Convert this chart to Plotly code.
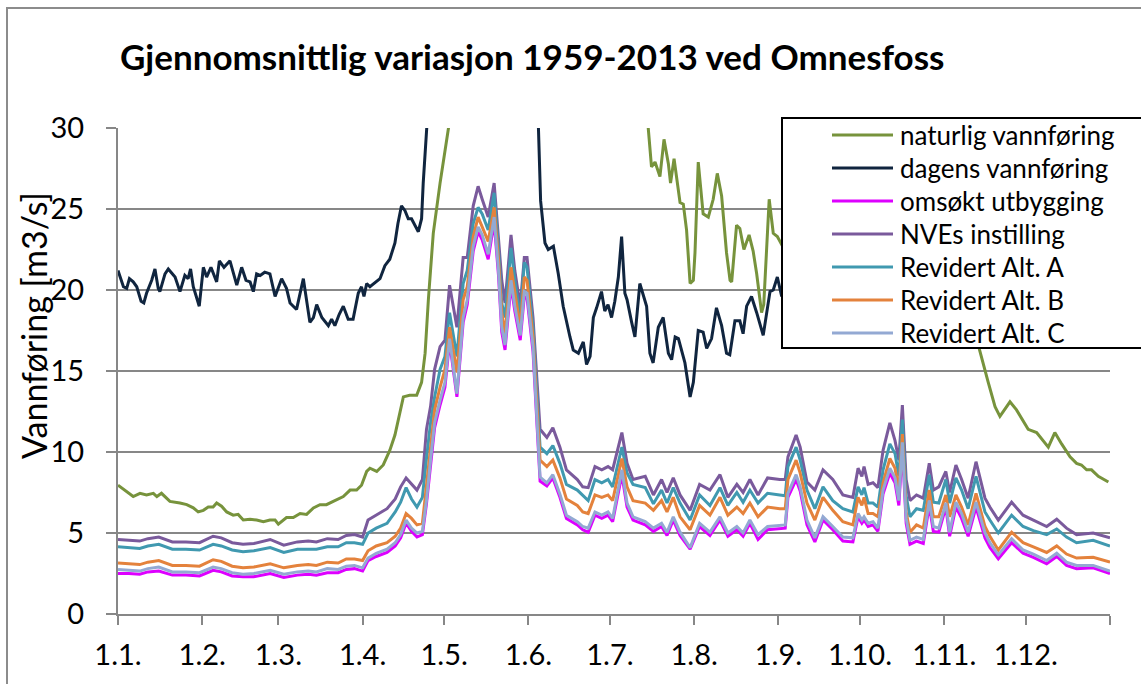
import plotly.graph_objects as go

# Day-of-year (0 = 1 Jan) and flows in m3/s

# regulated series share the same key days
days_reg = [0, 4, 8, 11, 15, 20, 25, 30, 35, 38, 42, 46, 50, 56, 61, 66, 70, 73, 77, 81,
            84, 87, 90, 92, 95, 99, 102, 104, 106, 108, 110, 112, 113.5, 115, 116.5, 118.5,
            120.3, 122, 124.7, 127, 128.5, 130.7, 132.5, 134, 136.2, 138.4, 140, 141.2,
            142.4, 144.6, 146, 148, 149.5, 150.5, 152.7, 155.3, 157.8, 160, 162.6, 165,
            169, 171, 173, 175.5, 178, 180.3, 182, 185.4, 187.3, 189.5, 194, 197, 200, 202,
            204.3, 206.8, 210.5, 214, 217.8, 221.5, 224.4, 227.7, 230, 232.5, 235.5, 239,
            243.5, 245.5, 246.5, 249.5, 251, 253.5, 256.4, 259.4, 263, 266.7, 270.4, 272.3,
            273.7, 274.5, 276, 277.8, 279.6, 281.5, 284, 285.9, 287.3, 288.6, 290, 291.4,
            293.8, 296.3, 298.5, 300, 302, 304.6, 306, 308.3, 310.4, 312.8, 315.7, 319,
            320.8, 323.9, 328.8, 333, 336.8, 341.7, 345.4, 349, 352.7, 358.8, 365]

nve = [4.6, 4.55, 4.5, 4.65, 4.75, 4.45, 4.45, 4.4, 4.8, 4.7, 4.4, 4.3, 4.35, 4.6, 4.25, 4.45,
       4.5, 4.45, 4.65, 4.6, 4.85, 4.9, 4.75, 5.8, 6.1, 6.5, 7.1, 7.85, 8.4, 8.0, 7.65, 8.3,
       11.4, 12.8, 15.1, 16.5, 16.9, 20.3, 17.7, 22.0, 22.0, 25.2, 26.4, 25.6, 24.5, 26.6,
       23.3, 20.6, 19.2, 23.4, 21.2, 19.0, 22.0, 22.0, 18.3, 11.4, 10.9, 11.5, 10.3, 8.9,
       8.3, 7.85, 7.8, 9.1, 8.9, 9.1, 8.9, 11.2, 9.3, 8.3, 8.5, 7.35, 8.3, 7.5,
       8.4, 7.35, 6.4, 8.0, 7.65, 8.6, 7.2, 8.0, 7.5, 8.3, 7.35, 8.4,
       8.3, 8.3, 9.7, 11.05, 10.3, 8.15, 7.65, 8.9, 8.3, 7.35, 7.2, 9.0,
       8.5, 9.1, 8.0, 8.1, 7.8, 10.1, 11.8, 10.7, 9.5, 12.9, 8.3, 7.0,
       7.35, 7.15, 9.3, 7.65, 7.85, 8.8, 7.5, 9.2, 8.3, 7.15, 9.4, 7.15,
       6.6, 5.8, 6.9, 6.1, 5.8, 5.4, 5.85, 5.3, 4.9, 5.0, 4.7]

alt_a = [4.15, 4.1, 4.05, 4.2, 4.3, 4.0, 4.0, 3.95, 4.3, 4.2, 3.95, 3.85, 3.9, 4.1, 3.8, 4.0,
         4.0, 4.0, 4.15, 4.15, 4.4, 4.4, 4.3, 5.0, 5.3, 5.6, 6.3, 6.9, 7.8, 7.1, 6.6, 7.2,
         9.6, 11.8, 13.4, 15.1, 15.9, 18.6, 15.9, 20.4, 21.2, 24.1, 25.1, 24.7, 23.7, 26.0,
         22.5, 19.2, 18.3, 22.6, 20.6, 18.3, 21.7, 21.4, 17.7, 10.3, 9.9, 10.4, 9.3, 8.0,
         7.65, 7.35, 7.0, 8.3, 8.1, 8.3, 7.85, 10.3, 8.7, 8.0, 7.8, 6.8, 7.65, 6.85,
         7.8, 6.85, 5.8, 7.35, 6.7, 7.8, 6.7, 7.5, 6.9, 7.65, 6.85, 7.45,
         7.35, 7.3, 9.1, 10.3, 9.5, 7.65, 6.5, 7.85, 7.0, 6.5, 6.3, 7.85,
         7.35, 7.8, 6.85, 6.85, 6.6, 8.9, 10.5, 9.9, 8.5, 12.0, 7.3, 6.0,
         6.5, 6.4, 8.6, 6.9, 6.85, 8.3, 6.85, 8.4, 7.65, 6.5, 8.5, 6.3,
         5.8, 5.0, 6.1, 5.4, 5.15, 4.9, 5.25, 4.75, 4.4, 4.55, 4.2]

alt_b = [3.15, 3.1, 3.05, 3.2, 3.3, 3.0, 3.0, 2.95, 3.35, 3.25, 2.95, 2.85, 2.9, 3.1, 2.85, 3.0,
         3.05, 3.0, 3.2, 3.15, 3.4, 3.4, 3.3, 3.9, 4.2, 4.4, 4.8, 5.3, 6.2, 5.9, 5.5, 5.6,
         8.0, 10.6, 12.6, 14.0, 15.1, 17.7, 14.9, 19.4, 20.2, 23.3, 24.5, 23.9, 23.0, 25.1,
         21.9, 18.6, 17.3, 21.4, 19.8, 17.7, 20.8, 20.6, 17.1, 9.5, 9.1, 9.5, 8.4, 7.1,
         6.7, 6.3, 6.2, 7.35, 7.2, 7.35, 7.0, 9.6, 7.85, 7.0, 6.85, 6.4, 7.0, 6.3,
         7.2, 6.0, 5.2, 6.7, 6.1, 7.2, 6.1, 6.6, 6.2, 6.85, 6.0, 6.6,
         6.5, 6.5, 8.3, 9.5, 8.7, 6.85, 5.8, 7.2, 6.4, 5.7, 5.5, 7.2,
         6.7, 7.2, 6.2, 6.2, 6.0, 8.1, 9.6, 9.0, 7.6, 11.1, 6.3, 5.05,
         5.5, 5.3, 7.65, 6.0, 6.0, 7.35, 6.0, 7.35, 6.6, 5.5, 7.45, 5.4,
         4.8, 3.95, 5.05, 4.4, 4.15, 3.8, 4.2, 3.7, 3.45, 3.5, 3.2]

alt_c = [2.75, 2.7, 2.65, 2.8, 2.9, 2.6, 2.6, 2.55, 2.9, 2.8, 2.55, 2.45, 2.5, 2.7, 2.45, 2.6,
         2.65, 2.6, 2.8, 2.75, 2.95, 3.0, 2.85, 3.45, 3.75, 4.0, 4.4, 4.9, 5.8, 5.3, 5.0, 5.1,
         7.0, 9.5, 11.8, 13.2, 14.3, 17.0, 13.6, 18.3, 19.4, 22.7, 23.9, 23.4, 22.2, 24.5,
         21.2, 17.7, 16.6, 20.6, 19.0, 17.2, 19.9, 19.8, 16.5, 8.45, 8.1, 8.6, 7.4, 6.1,
         5.7, 5.4, 5.3, 6.3, 6.1, 6.3, 5.9, 8.9, 6.85, 6.0, 5.7, 5.3, 5.6, 5.05,
         6.0, 5.05, 4.1, 5.6, 5.05, 6.0, 5.0, 5.4, 5.0, 5.8, 4.9, 5.4,
         5.5, 5.5, 7.45, 8.6, 7.85, 5.8, 4.7, 6.0, 5.4, 4.75, 4.7, 6.2,
         5.8, 6.0, 5.6, 5.7, 5.3, 7.65, 9.0, 8.4, 7.0, 10.6, 5.9, 4.55,
         4.75, 4.6, 7.0, 5.4, 5.3, 6.85, 5.05, 6.9, 6.2, 5.05, 6.9, 5.0,
         4.4, 3.65, 4.65, 3.95, 3.7, 3.3, 3.75, 3.2, 3.0, 3.0, 2.65]

omsokt = [2.5, 2.5, 2.45, 2.6, 2.65, 2.4, 2.4, 2.35, 2.7, 2.6, 2.35, 2.3, 2.3, 2.5, 2.25, 2.4,
          2.45, 2.4, 2.55, 2.55, 2.75, 2.8, 2.65, 3.3, 3.55, 3.8, 4.2, 4.7, 5.6, 5.1, 4.75, 4.9,
          6.8, 9.3, 11.5, 12.9, 14.0, 16.8, 13.4, 18.0, 19.1, 22.4, 23.6, 23.1, 21.9, 24.2,
          20.9, 17.4, 16.3, 20.3, 18.7, 16.9, 19.6, 19.5, 16.2, 8.2, 7.9, 8.4, 7.2, 5.9,
          5.5, 5.2, 5.05, 6.1, 5.9, 6.1, 5.7, 8.6, 6.6, 5.8, 5.5, 5.1, 5.4, 4.85,
          5.8, 4.85, 4.0, 5.4, 4.85, 5.8, 4.8, 5.2, 4.8, 5.6, 4.6, 5.2,
          5.3, 5.3, 7.2, 8.3, 7.6, 5.5, 4.45, 5.8, 5.2, 4.5, 4.45, 6.0,
          5.6, 5.8, 5.4, 5.5, 5.1, 7.4, 8.7, 8.1, 6.7, 10.3, 5.6, 4.3,
          4.5, 4.35, 6.7, 5.1, 5.05, 6.6, 4.8, 6.6, 5.9, 4.8, 6.6, 4.7,
          4.1, 3.4, 4.4, 3.75, 3.5, 3.1, 3.55, 3.0, 2.8, 2.85, 2.5]

days_dag = [0, 2, 3.2, 4.2, 5.6, 6.9, 8.5, 9.5, 10.5, 12.4, 13.6, 14.8, 15.4, 17.3, 18.5, 21,
            22.8, 24.6, 25.8, 26.7, 27.7, 29, 29.9, 31.4, 32.6, 34.2, 36.3, 37.3, 39, 41.2,
            43.7, 45.5, 47.1, 48.6, 49.8, 51, 52.3, 54, 55.9, 57.8, 60.2, 62, 63.3, 65.7,
            68.2, 70.6, 71.9, 73.1, 75, 77.4, 78.6, 79.8, 81.4, 82.9, 84.7, 86.5, 88.4, 89.6,
            90.5, 91.5, 92.7, 96.4, 98.2, 100, 101.9, 103, 104.3, 105.6, 106.8, 108, 110.5,
            111.7, 112.3, 113.6, 115, 118, 122, 128, 135, 142, 148, 152, 154.7, 155.5, 157.1,
            158.3, 160.2, 162, 163.8, 165, 166.3, 167.5, 169.4, 171.2, 172.4, 173.7, 174.9,
            176.1, 177.9, 179.1, 180.3, 181.6, 182.8, 184.1, 185.3, 186.5, 187.3, 189, 190.2,
            192, 194.5, 195.7, 196.9, 198.8, 200.6, 202.5, 203.7, 205, 206.2, 208.6, 210.5,
            211.7, 213.5, 215.3, 216.6, 218.4, 220.2, 222.1, 223.9, 225.1, 227, 228.8, 230,
            231.3, 233.1, 235, 237.4, 239.9, 241.1, 242.6, 244.2, 248, 255, 265, 275, 285,
            295, 305, 315, 325, 335, 345, 355, 365]

dagens = [21.2, 20.2, 20.1, 20.7, 20.5, 20.2, 19.3, 19.2, 19.8, 20.6, 21.3, 20.1, 19.9, 21.0,
          21.3, 20.8, 19.9, 20.9, 20.7, 21.3, 20.2, 19.4, 19.0, 21.4, 20.8, 21.4, 20.5, 21.8,
          21.4, 21.8, 20.3, 21.4, 20.6, 20.5, 19.9, 21.0, 20.9, 21.1, 21.0, 19.6, 20.7, 20.1,
          19.2, 18.8, 20.7, 18.0, 18.3, 19.1, 18.3, 17.8, 18.2, 17.8, 18.5, 19.0, 18.2, 18.2,
          19.8, 20.2, 19.6, 20.4, 20.2, 20.7, 21.5, 21.9, 22.9, 24.1, 25.2, 24.9, 24.4, 24.4,
          23.6, 24.4, 26.6, 30.0, 34.0, 40.0, 46.0, 50.0, 52.0, 50.0, 45.0, 38.0, 30.0, 25.5,
          22.9, 22.5, 22.7, 21.0, 19.0, 18.0, 17.1, 16.3, 16.1, 16.8, 15.4, 15.9, 18.3, 18.9,
          19.9, 18.7, 19.1, 18.3, 19.3, 20.8, 23.3, 19.8, 19.4, 18.0, 17.1, 20.4, 19.0, 16.1,
          15.5, 17.7, 18.3, 16.1, 15.7, 17.1, 17.0, 15.5, 13.4, 14.3, 17.5, 17.4, 16.4, 17.0,
          18.9, 17.8, 16.1, 16.0, 18.1, 18.1, 17.3, 19.0, 19.6, 18.6, 17.2, 19.9, 20.0, 20.8,
          19.6, 20.5, 21.0, 20.0, 22.0, 24.0, 22.0, 21.0, 20.0, 19.5, 20.0, 20.5, 20.0, 20.5]

days_nat = [0, 3.2, 5.6, 8.1, 10.5, 13, 14.3, 16, 19.1, 22.8, 25.3, 27.7, 29.5, 31.4, 33.2, 35,
            36.3, 38.1, 40, 42.4, 44.2, 46.1, 48.6, 51, 53.5, 55.9, 57.8, 59, 62, 64.5, 67,
            69.4, 71.9, 74.3, 76.7, 79.2, 82.9, 85.4, 87.8, 89.6, 91.5, 92.7, 95.2, 97.6, 100,
            101.9, 103.8, 105, 107.3, 109.9, 111.7, 113, 114.2, 116, 118.5, 120.3, 121.6, 125,
            130, 138, 145, 155, 165, 175, 185, 192, 195.1, 196.3, 197.6, 199.4, 200.9, 202.5,
            203.3, 204.6, 205.8, 206.8, 208, 209.2, 210.5, 211.7, 212.3, 213.5, 215.3, 217.2,
            219, 220.5, 222.1, 223.9, 225.2, 225.8, 227.6, 228.8, 230.3, 232.2, 233.7, 235,
            236.8, 237.6, 239.6, 241.1, 242.6, 244.2, 250, 258, 266, 275, 285, 295, 305, 313,
            317, 319, 320.2, 322.7, 324.5, 328.2, 330.6, 334.9, 338, 342.3, 344.7, 347.2, 350.3,
            352.7, 354.5, 356.4, 358.2, 360.7, 364.4]

naturlig = [7.95, 7.55, 7.25, 7.45, 7.35, 7.45, 7.25, 7.45, 6.95, 6.85, 6.75, 6.55, 6.3, 6.4,
            6.6, 6.6, 6.85, 6.65, 6.3, 6.1, 6.15, 5.8, 5.85, 5.8, 5.7, 5.8, 5.8, 5.55, 5.95,
            5.95, 6.2, 6.15, 6.55, 6.75, 6.75, 6.95, 7.25, 7.65, 7.65, 7.95, 8.8, 9.0, 8.8, 9.2,
            10.1, 11.05, 12.5, 13.4, 13.5, 13.5, 14.3, 16.1, 19.4, 23.5, 26.6, 28.6, 30.0, 36.0,
            42.0, 48.0, 52.0, 50.0, 44.0, 40.0, 36.0, 32.0, 30.0, 27.6, 27.9, 27.0, 29.3, 27.8,
            26.6, 28.1, 26.5, 25.4, 25.3, 23.7, 20.4, 20.6, 22.3, 27.9, 24.7, 24.5,
            25.6, 27.2, 25.8, 22.3, 20.6, 20.5, 24.0, 23.8, 22.5, 23.4, 22.4, 21.0,
            18.6, 19.1, 25.6, 23.5, 23.3, 22.8, 24.0, 27.0, 24.0, 27.0, 31.0, 28.0, 24.0, 19.0,
            16.3, 15.0, 14.3, 12.8, 12.2, 13.1, 12.6, 11.4, 11.2, 10.3, 11.2, 10.5, 9.7,
            9.3, 9.2, 8.9, 8.9, 8.5, 8.15]

month_starts = [0, 31, 59, 90, 120, 151, 181, 212, 243, 273, 304, 334, 365]
month_labels = ["1.1.", "1.2.", "1.3.", "1.4.", "1.5.", "1.6.", "1.7.", "1.8.", "1.9.",
                "1.10.", "1.11.", "1.12.", ""]

series = [
    ("naturlig vannføring", days_nat, naturlig, "#77933C"),
    ("dagens vannføring", days_dag, dagens, "#10253F"),
    ("omsøkt utbygging", days_reg, omsokt, "#DD00FF"),
    ("NVEs instilling", days_reg, nve, "#7A5A9C"),
    ("Revidert Alt. A", days_reg, alt_a, "#4099B0"),
    ("Revidert Alt. B", days_reg, alt_b, "#E4823C"),
    ("Revidert Alt. C", days_reg, alt_c, "#93A9D3"),
]

FONT = "Lato"
GRID = "#878787"

# plot area in pixels: x 118..1110, y 128..614
L, R, T, B = 118, 1110, 128, 614
def px(x):
    return (x - L) / (R - L)
def py(y):
    return (B - y) / (B - T)

fig = go.Figure()
for name, xs, ys, col in series:
    fig.add_trace(go.Scatter(x=xs, y=ys, name=name, mode="lines",
                             line=dict(color=col, width=3), showlegend=False))

fig.update_layout(
    width=1141, height=684,
    margin=dict(l=L, r=1141 - R, t=T, b=684 - B, autoexpand=False),
    paper_bgcolor="white", plot_bgcolor="white",
    font=dict(family=FONT, color="black"),
    title=dict(text="Gjennomsnittlig variasjon 1959-2013 ved Omnesfoss",
               font=dict(family=FONT, size=35, weight=700, color="black"),
               xref="container", x=120 / 1141, xanchor="left",
               yref="container", y=1 - 58 / 684, yanchor="middle"),
)
fig.update_xaxes(range=[0, 365], tickvals=month_starts, ticktext=month_labels,
                 showgrid=False, zeroline=False, showline=True, linecolor=GRID, linewidth=2,
                 ticks="outside", ticklen=9, tickwidth=2, tickcolor=GRID,
                 tickfont=dict(size=29, family=FONT, color="black"), ticklabelstandoff=5)
fig.update_yaxes(range=[0, 30], dtick=5, showgrid=True, gridcolor=GRID, gridwidth=2,
                 zeroline=False, showline=True, linecolor=GRID, linewidth=2,
                 ticks="outside", ticklen=10, tickwidth=2, tickcolor=GRID,
                 tickfont=dict(size=29, family=FONT, color="black"), ticklabelstandoff=16)

# y-axis title, placed where the original has it (not centred on the axis)
fig.add_annotation(text="Vannføring [m3/s]", xref="paper", yref="paper",
                   x=px(33), y=py(326), textangle=-90, showarrow=False,
                   xanchor="center", yanchor="middle",
                   font=dict(size=34, family=FONT, color="black"))

# outer chart border (cut off at the right and bottom in the original)
fig.add_shape(type="rect", xref="paper", yref="paper", x0=px(7), x1=px(1160),
              y0=py(700), y1=py(8), line=dict(color="#8C8C8C", width=2), layer="below")

# legend box, drawn above the lines like the original
lx0, ly0, ly1 = 782, 118, 348
fig.add_shape(type="rect", xref="paper", yref="paper", x0=px(lx0), x1=px(1160),
              y0=py(ly1), y1=py(ly0), fillcolor="white", line=dict(color="black", width=2),
              layer="above")
for i, (name, xs, ys, col) in enumerate(series):
    yy = 135 + i * 33
    fig.add_shape(type="line", xref="paper", yref="paper", x0=px(832), x1=px(893),
                  y0=py(yy), y1=py(yy), line=dict(color=col, width=3), layer="above")
    fig.add_annotation(text=name, xref="paper", yref="paper", x=px(898), y=py(yy),
                       xanchor="left", yanchor="middle", showarrow=False,
                       font=dict(size=26, family=FONT, color="black"))

# the page body has a default 8px margin; drop it so the chart fills the window
fig.write_html("out.html", config={"displayModeBar": False},
               post_script="document.body.style.margin='0px';")
